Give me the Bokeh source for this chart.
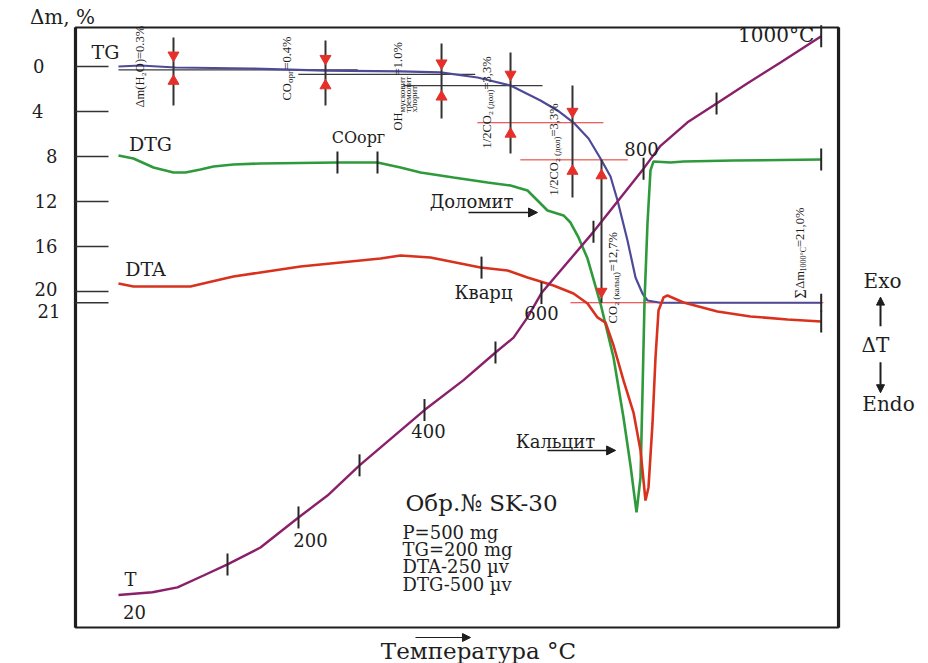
import numpy as np
from bokeh.plotting import figure
from bokeh.models import Range1d, Label, Arrow, NormalHead
from bokeh.embed import file_html
from bokeh.resources import INLINE

# Derivatogram of sample SK-30. All traces share one time base:
# minutes from the start of heating.

# TG: cumulative mass loss, %
tg_time = [0.0, 3.07, 7.96, 18.43, 28.90, 39.37, 44.95, 50.12, 54.73, 58.91,
           61.29, 63.52, 65.62, 67.29, 68.69, 69.67, 71.06, 72.18, 73.15, 73.85,
           75.67, 81.25, 98.1]
tg_loss = [0.0, -0.09, 0.09, 0.18, 0.36, 0.44, 0.53, 0.98, 1.69, 3.02,
           3.91, 4.98, 6.40, 8.18, 9.78, 11.91, 15.47, 18.76, 20.18, 20.80,
           21.0, 21.0, 21.0]

# DTG trace, pen position read on the Δm scale
dtg_time = [0.0, 2.09, 4.89, 7.68, 9.35, 11.45, 13.26, 16.05, 19.82, 30.57,
            36.16, 39.37, 42.16, 46.77, 51.52, 54.73, 57.10, 58.50, 59.89, 62.13,
            63.10, 64.22, 65.48, 67.29, 69.11, 70.50, 71.48, 72.32, 72.88, 73.16,
            73.44, 73.85, 74.27, 74.69, 77.06, 78.88, 85.86, 98.1]
dtg_trace = [7.91, 8.18, 8.98, 9.42, 9.42, 9.16, 8.89, 8.71, 8.62, 8.53,
             8.53, 8.98, 9.42, 9.87, 10.31, 10.58, 11.02, 11.91, 12.80, 13.24,
             13.87, 15.20, 17.07, 21.07, 25.87, 31.20, 35.47, 39.64, 36.53, 28.80,
             20.80, 13.96, 9.24, 8.44, 8.53, 8.44, 8.36, 8.27]

# DTA trace, pen position read on the Δm scale
dta_time = [0.0, 2.09, 5.44, 10.05, 12.43, 16.05, 19.82, 25.41, 30.99, 36.58,
            39.37, 43.56, 47.75, 50.54, 54.31, 57.10, 60.73, 63.52, 65.48, 66.87,
            67.99, 69.11, 70.50, 71.90, 72.88, 73.57, 73.99, 74.55, 74.97, 75.39,
            76.09, 76.64, 78.88, 83.62, 88.23, 93.40, 98.1]
dta_trace = [19.29, 19.56, 19.56, 19.56, 19.20, 18.67, 18.31, 17.78, 17.42, 17.07,
             16.80, 16.98, 17.51, 17.87, 18.13, 18.76, 19.47, 20.18, 21.07, 22.31,
             22.76, 24.80, 27.91, 30.76, 34.13, 38.58, 37.42, 31.73, 25.87, 21.69,
             20.53, 20.36, 20.98, 21.78, 22.22, 22.49, 22.67]

# T: furnace temperature, °C
temp_time = [0.0, 4.75, 8.24, 11.87, 15.22, 19.82, 25.13, 29.18, 33.65, 42.72,
             48.17, 52.63, 55.15, 57.10, 59.05, 66.31, 73.30, 75.67, 79.44, 83.49,
             87.82, 92.42, 98.1]
temp_c = [20, 27, 40, 71, 100, 136, 200, 242, 300, 400,
          452, 500, 525, 559, 600, 700, 800, 835, 871, 900,
          930, 961, 1000]
temp_tick_c = [100, 200, 300, 400, 500, 600, 700, 800, 900, 1000]
temp_tick_time = [15.22, 25.13, 33.65, 42.72, 52.63, 59.05, 66.31, 73.30, 83.49, 98.1]

# Pt/PtRh10 (type S) thermocouple reference table: the T pen records emf
tc_temp = [0, 100, 200, 300, 400, 500, 600, 700, 800, 900, 1000]
tc_emf = [0.000, 0.646, 1.441, 2.323, 3.259, 4.233, 5.239, 6.275, 7.345, 8.449, 9.587]

# Mass-loss steps measured on TG
step_time = [7.68, 28.90, 45.10, 54.73, 63.38, 67.43]
step_start = [0.0, 0.3, 0.7, 1.7, 5.0, 8.3]
step_loss = [0.3, 0.4, 1.0, 3.3, 3.3, 12.7]
step_marker_top = [-2.58, -2.31, -2.04, -1.24, 1.69, 8.3]
step_marker_bottom = [3.47, 3.47, 4.62, 7.73, 11.64, 21.0]
step_line_from = [0.0, 25.1, 39.8, 50.1, 56.1, 63.1]
step_line_to = [33.4, 49.8, 59.2, 67.7, 71.1, 98.4]
total_loss = sum(step_loss)

# Time marks on the traces
dtg_mark_time = [30.57, 36.16]   # organic matter burning
dta_mark_time = [50.68]          # quartz transition
end_time = 98.1

# Δm scale of the chart
dm_ticks = [0, 4, 8, 12, 16, 20, 21]

# ---------------------------------------------------------------- layout
W, H = 928, 663
# chart box in data units (time, Δm)
BOX_T0, BOX_T1 = -6.0, 100.52
BOX_DM0, BOX_DM1 = -3.47, 49.87

# the canvas shows the box plus margins for captions
x_range = Range1d(-16.47, 113.08)
y_range = Range1d(53.07, -5.867)
emf_range = Range1d(-1.031, 10.191)

px_min = W / (x_range.end - x_range.start)
px_pct = H / (y_range.start - y_range.end)
px_mv = H / (emf_range.end - emf_range.start)

INK = "#1e1e1e"
C_TG = "#4d4a98"
C_DTG = "#2f9a3c"
C_DTA = "#d8321f"
C_T = "#8a1f6a"
C_RED = "#e5302a"
SERIF = "DejaVu Serif"
NARROW = "Liberation Serif"


def emf(tc):
    return np.interp(tc, tc_temp, tc_emf)


p = figure(width=W, height=H, x_range=x_range, y_range=y_range, title=None,
           output_backend="svg", toolbar_location=None,
           x_axis_location=None, y_axis_location=None,
           min_border_left=0, min_border_right=0,
           min_border_top=0, min_border_bottom=0)
p.extra_y_ranges = {"emf": emf_range}
p.grid.visible = False
p.outline_line_color = None
p.background_fill_color = "white"
p.border_fill_color = "white"


def add_label(x, y, text, size, font=SERIF, align="center", baseline="middle",
              angle=0.0, color=INK, rng="default"):
    p.add_layout(Label(x=x, y=y, text=text, text_font=font,
                       text_font_size=f"{size}px", text_align=align,
                       text_baseline=baseline, angle=angle, text_color=color,
                       y_range_name=rng))


def add_arrow(x0, y0, x1, y1, head=9, width=1.4):
    p.add_layout(Arrow(x_start=x0, y_start=y0, x_end=x1, y_end=y1,
                       line_color=INK, line_width=width,
                       end=NormalHead(size=head, fill_color=INK, line_color=INK)))


# ------------------------------------------------------- box and Δm scale
p.quad(left=[BOX_T0], right=[BOX_T1], top=[BOX_DM0], bottom=[BOX_DM1],
       fill_color=None, line_color=INK, line_width=2)
p.segment(x0=[BOX_T0, BOX_T1], y0=[BOX_DM0, BOX_DM0],
          x1=[BOX_T0, BOX_T1], y1=[BOX_DM1, BOX_DM1],
          line_color=INK, line_width=3.2)
tick_len = 33 / px_min
p.segment(x0=[BOX_T0] * len(dm_ticks), y0=dm_ticks,
          x1=[BOX_T0 + tick_len] * len(dm_ticks), y1=dm_ticks,
          line_color="#333333", line_width=1.5)
# per-label nudges in screen px (dx, dy): keeps 20 and 21 apart
label_nudge = {0: (-13, 0), 4: (-14, 0), 20: (0, -2), 21: (3, 8)}
for v in dm_ticks:
    dx, dy = label_nudge.get(v, (0, 0))
    add_label(BOX_T0 + (dx - 18) / px_min, v + dy / px_pct,
              str(v), 18, align="right")

# ------------------------------------------------- TG step reference lines
step_end = [s + d for s, d in zip(step_start, step_loss)]
line_colors = ["#3a3a3a"] * 3 + [C_RED] * 3
line_widths = [1.3] * 3 + [1.0] * 3
p.segment(x0=step_line_from, y0=step_end, x1=step_line_to, y1=step_end,
          line_color=line_colors, line_width=line_widths)

# ------------------------------------------------------------------ traces
p.line(tg_time, tg_loss, line_color=C_TG, line_width=2.2)
p.line(dtg_time, dtg_trace, line_color=C_DTG, line_width=2.6)
p.line(dta_time, dta_trace, line_color=C_DTA, line_width=2.6)
p.line(temp_time, emf(temp_c), y_range_name="emf", line_color=C_T, line_width=2.4)

# step markers with arrowheads
p.segment(x0=step_time, y0=step_marker_top, x1=step_time, y1=step_marker_bottom,
          line_color="#333333", line_width=2)
down_y = [s - 1.0 for s in step_start[:5]] + [step_end[5] - 1.0]
up_y = [e + 1.0 for e in step_end[:5]] + [step_start[5] + 1.4]
p.scatter(step_time, down_y, marker="inverted_triangle", size=11,
          fill_color=C_RED, line_color=C_RED)
p.scatter(step_time, up_y, marker="triangle", size=11,
          fill_color=C_RED, line_color=C_RED)

# time marks on the traces
tick_style = dict(marker="dash", angle=np.pi / 2, size=22,
                  line_color="#262626", line_width=2)
p.scatter(temp_tick_time, emf(temp_tick_c), y_range_name="emf", **tick_style)
p.scatter(dtg_mark_time + [end_time],
          list(np.interp(dtg_mark_time + [end_time], dtg_time, dtg_trace)),
          **tick_style)
p.scatter(dta_mark_time + [end_time],
          list(np.interp(dta_mark_time + [end_time], dta_time, dta_trace)),
          **tick_style)
p.scatter([end_time], [np.interp(end_time, tg_time, tg_loss)],
          **dict(tick_style, size=18))

# ------------------------------------------------------------------ labels
add_label(-1.81, -1.33, "TG", 19)
add_label(4.47, 6.93, "DTG", 19)
add_label(3.77, 17.96, "DTA", 19)
add_label(33.5, 6.31, "COорг", 16)
add_label(49.28, 12.0, "Доломит", 18)
add_arrow(48.86, 12.98, 58.5, 12.98)
add_label(50.96, 20.09, "Кварц", 18)
add_label(61.0, 33.33, "Кальцит", 18)
add_arrow(59.9, 34.13, 69.4, 34.13)

add_label(50.68, 38.84, "Обр.№ SK-30", 23)
for dm, line in zip([41.42, 42.93, 44.44, 46.04],
                    ["P=500 mg", "TG=200 mg", "DTA-250 µv", "DTG-500 µv"]):
    add_label(39.65, dm, line, 18, align="left")

# temperature labels next to their marks (offsets in screen pixels)
t_start = emf(temp_c[0])
add_label(temp_time[0] + 12 / px_min, t_start + 15 / px_mv, "T", 18, rng="emf")
add_label(temp_time[0] + 16 / px_min, t_start - 17 / px_mv, str(temp_c[0]), 18, rng="emf")
t_label_offsets = {200: (12, 23), 400: (4, 21), 600: (0, 20), 800: (-2, -20)}
for tc, tt in zip(temp_tick_c, temp_tick_time):
    if tc in t_label_offsets:
        dx, dy = t_label_offsets[tc]
        add_label(tt + dx / px_min, emf(tc) - dy / px_mv, str(tc), 18, rng="emf")
add_label(temp_tick_time[-1] - 7 / px_min, emf(temp_tick_c[-1]) + 1 / px_mv,
          f"{temp_tick_c[-1]}°C", 20, align="right", rng="emf")

# rotated mass-loss annotations, built from pieces running upward
EM = {".": 0.25, ",": 0.25, "%": 0.833, "=": 0.564, "/": 0.278, "(": 0.333,
      ")": 0.333, "C": 0.667, "O": 0.722, "H": 0.722, "Δ": 0.612, "Σ": 0.6,
      "m": 0.778, "°": 0.4, "м": 0.63, "ш": 0.75}


def run_length(text, size):
    return sum(EM.get(c, 0.5) for c in text) * size


def rotated(t, dm, pieces):
    run = 0.0
    for text, size, shift, advance in pieces:
        add_label(t + shift / px_min, dm - run / px_pct, text, size,
                  font=NARROW, align="left", angle=np.pi / 2)
        if advance:
            run += run_length(text, size)


def pct(v, sep):
    return f"{v:.1f}".replace(".", sep) + "%"


MAIN, SUB = 12.5, 9
rotated(3.07, 3.64, [(f"Δm(H₂O)={pct(step_loss[0], '.')}", MAIN, 0, True)])
rotated(23.59, 3.02, [("CO", MAIN, 0, True), ("орг", SUB, 3, True),
                      (f"={pct(step_loss[1], '.')}", MAIN, 0, True)])
rotated(39.09, 5.69, [("OH", MAIN, 0, True),
                      ("тремолит", SUB, 10, False), ("хлорит", SUB, 16, False),
                      ("мусковит", SUB, 4, True),
                      (f"={pct(step_loss[2], '.')}", MAIN, 0, True)])
rotated(51.51, 7.29, [("1/2CO₂", MAIN, 0, True), ("(дол)", SUB, 3, True),
                      (f"={pct(step_loss[3], ',')}", MAIN, 0, True)])
rotated(60.73, 11.47, [("1/2CO₂", MAIN, 0, True), ("(дол)", SUB, 3, True),
                       (f"={pct(step_loss[4], ',')}", MAIN, 0, True)])
rotated(68.97, 22.84, [("CO₂", MAIN, 0, True), ("(кальц)", SUB, 3, True),
                       (f"={pct(step_loss[5], ',')}", MAIN, 0, True)])
rotated(95.21, 20.62, [("Σ", 16, 0, True), ("Δm", MAIN, 0, True),
                       ("1000°C", 8, 3, True),
                       (f"={pct(total_loss, ',')}", MAIN, 0, True)])

# margins: axis caption, thermal-effect direction, time axis caption
add_label(-7.82, -4.36, "Δm, %", 20)
add_label(106.66, 19.11, "Exo", 20)
add_arrow(106.38, 23.1, 106.38, 20.5, head=8, width=2)
add_label(105.68, 24.8, "ΔT", 20)
add_arrow(106.38, 26.3, 106.38, 29.0, head=8, width=2)
add_label(107.5, 30.04, "Endo", 20)
add_label(50.26, 52.0, "Температура °C", 23)
add_arrow(41.46, 50.76, 49.14, 50.76, head=8, width=1.2)

open("out.html", "w").write(file_html(p, INLINE))
